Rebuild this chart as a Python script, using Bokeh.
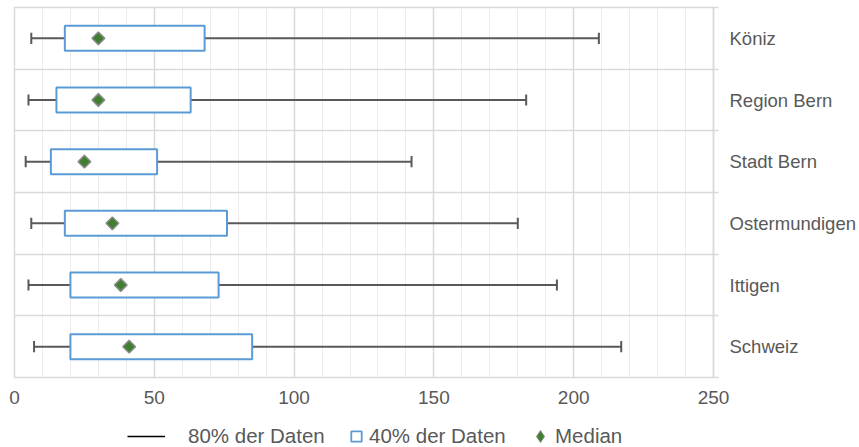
from bokeh.plotting import figure
from bokeh.layouts import column
from bokeh.models import (Range1d, FixedTicker, SingleIntervalTicker, Legend, LegendItem,
                          ColumnDataSource)
from bokeh.embed import file_html
from bokeh.resources import INLINE
import math

# ---- data ----
categories = ["Köniz", "Region Bern", "Stadt Bern", "Ostermundigen", "Ittigen", "Schweiz"]
p10 = [6, 5, 4, 6, 5, 7]              # lower end of 80% range
p30 = [18, 15, 13, 18, 20, 20]        # lower end of 40% box
median = [30, 30, 25, 35, 38, 41]
p70 = [68, 63, 51, 76, 73, 85]        # upper end of 40% box
p90 = [209, 183, 142, 180, 194, 217]  # upper end of 80% range
x_ticks = [0, 50, 100, 150, 200, 250]
legend_labels = ["80% der Daten", "40% der Daten", "Median"]

n = len(categories)
ypos = [n - 0.5 - i for i in range(n)]

src = ColumnDataSource(dict(y=ypos, lo=p10, q1=p30, med=median, q3=p70, hi=p90,
                            ylo=[y - 0.09 for y in ypos], yhi=[y + 0.09 for y in ypos]))

FONT = "Liberation Sans"
TXT = "#595959"
GRID = "#d9d9d9"
WHISK = "#595959"
BLUE = "#5B9BD5"
GREEN = "#3F7F2F"

p = figure(width=859, height=414, x_range=Range1d(0, 250), y_range=Range1d(0, n),
           output_backend="svg", toolbar_location=None, y_axis_location="right",
           min_border_left=14, min_border_top=7, min_border_bottom=37, min_border_right=146)
p.background_fill_color = "white"
p.border_fill_color = "white"
p.outline_line_color = GRID
p.outline_line_width = 1.5

# grids
p.xgrid.ticker = SingleIntervalTicker(interval=50, num_minor_ticks=5)
p.xgrid.grid_line_color = GRID
p.xgrid.grid_line_width = 1.5
p.xgrid.minor_grid_line_color = "#ececec"
p.xgrid.minor_grid_line_width = 1
p.ygrid.ticker = FixedTicker(ticks=list(range(n + 1)))
p.ygrid.grid_line_color = GRID
p.ygrid.grid_line_width = 1.5

# x axis
xa = p.xaxis[0]
xa.ticker = FixedTicker(ticks=x_ticks)
xa.axis_line_color = GRID
xa.major_tick_line_color = None
xa.minor_tick_line_color = None
xa.major_tick_out = 0
xa.major_tick_in = 0
xa.major_label_standoff = 13
xa.major_label_text_font = FONT
xa.major_label_text_font_size = "19px"
xa.major_label_text_color = TXT

# y axis (right, category names)
ya = p.yaxis[0]
ya.ticker = FixedTicker(ticks=ypos, minor_ticks=list(range(n + 1)))
ya.major_label_overrides = {y: c for y, c in zip(ypos, categories)}
ya.axis_line_color = GRID
ya.axis_line_width = 1.5
ya.major_tick_line_color = None
ya.major_tick_out = 0
ya.major_tick_in = 0
ya.minor_tick_line_color = GRID
ya.minor_tick_line_width = 1.5
ya.minor_tick_out = 5
ya.minor_tick_in = 0
ya.major_label_standoff = 11
ya.major_label_text_font = FONT
ya.major_label_text_font_size = "18.5px"
ya.major_label_text_color = TXT
ya.major_label_text_align = "left"

# whiskers (80%)
p.segment(x0="lo", x1="hi", y0="y", y1="y", source=src, line_color=WHISK, line_width=2)
p.segment(x0="lo", x1="lo", y0="ylo", y1="yhi", source=src, line_color=WHISK, line_width=2)
p.segment(x0="hi", x1="hi", y0="ylo", y1="yhi", source=src, line_color=WHISK, line_width=2)
# boxes (40%)
p.hbar(y="y", left="q1", right="q3", height=0.405, source=src, fill_color="white",
       line_color=BLUE, line_width=2)
# median (rotated square = diamond)
p.scatter(x="med", y="y", source=src, marker="square", angle=math.pi / 4, size=9,
          fill_color=GREEN, line_color="#8c8c8c", line_width=1.5)

# ---- legend strip ----
lg_fig = figure(width=859, height=33, x_range=Range1d(0, 1), y_range=Range1d(0, 1),
                output_backend="svg", toolbar_location=None,
                min_border_left=0, min_border_right=0, min_border_top=0, min_border_bottom=0)
lg_fig.axis.visible = False
lg_fig.grid.visible = False
lg_fig.outline_line_color = None
lg_fig.background_fill_color = "white"
lg_fig.border_fill_color = "white"

# legend-only renderers (their single point lies outside the visible range)
l1 = lg_fig.line(x=[-5, -4], y=[-5, -5], line_color="#000000", line_width=1.5)
l2 = lg_fig.scatter(x=[-5], y=[-5], marker="square", size=11, fill_color=None,
                    line_color=BLUE, line_width=1.8)
l3 = lg_fig.scatter(x=[-5], y=[-5], marker="diamond", size=14,
                    fill_color=GREEN, line_color="#8c8c8c", line_width=1)


def mk_legend(label, rend, x, y, gw, gh, standoff):
    lg = Legend(items=[LegendItem(label=label, renderers=[rend])], location=(x, y),
                glyph_width=gw, glyph_height=gh, label_height=20, label_standoff=standoff,
                padding=0, margin=0, border_line_color=None, background_fill_alpha=0,
                label_text_font=FONT, label_text_font_size="20.5px", label_text_color=TXT)
    lg_fig.add_layout(lg)


mk_legend(legend_labels[0], l1, 113, -2, 38, 26, 23)
mk_legend(legend_labels[1], l2, 329, -2, 26, 26, 0)
mk_legend(legend_labels[2], l3, 511, -4, 30, 30, 0)

layout = column(p, lg_fig, spacing=0)
open("out.html", "w").write(file_html(layout, INLINE))
